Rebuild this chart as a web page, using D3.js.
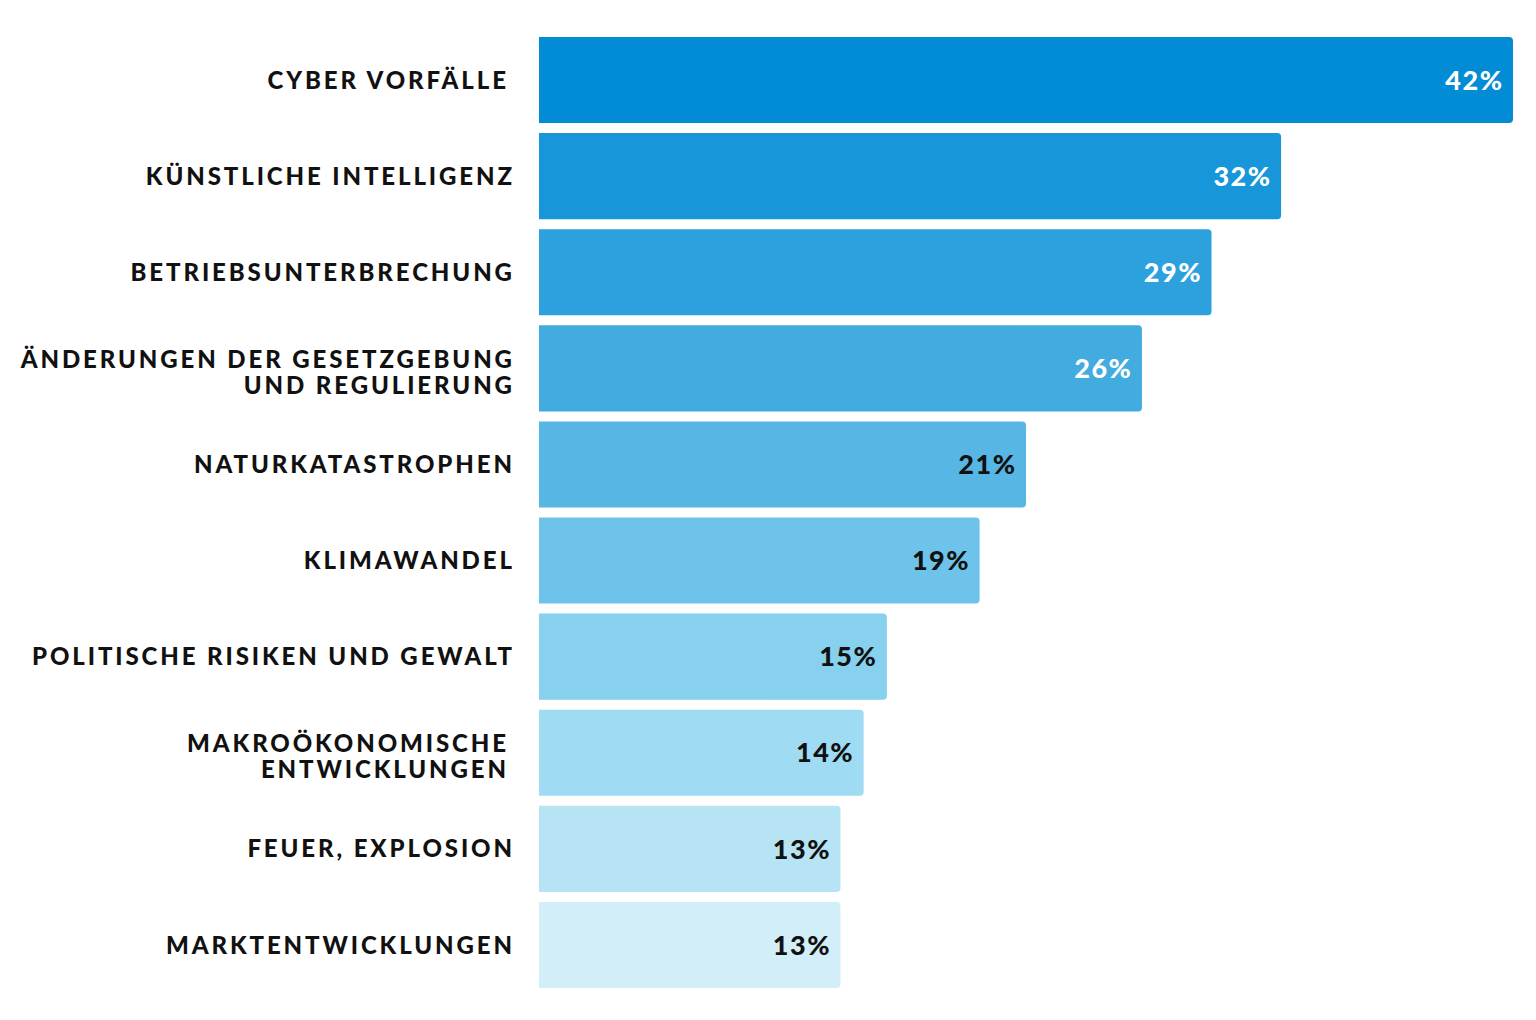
<!DOCTYPE html>
<html>
<head>
<meta charset="utf-8">
<script src="https://cdn.jsdelivr.net/npm/d3@7"></script>
<style>
  html, body { margin: 0; padding: 0; background: #fff; }
  text { font-family: "Lato", "Open Sans", sans-serif; font-weight: 900; }
</style>
</head>
<body>
<svg width="1536" height="1020"></svg>
<script>
// risk categories (label lines) and share of answers in %
const categories = [
    ["CYBER VORFÄLLE"],
    ["KÜNSTLICHE INTELLIGENZ"],
    ["BETRIEBSUNTERBRECHUNG"],
    ["ÄNDERUNGEN DER GESETZGEBUNG", "UND REGULIERUNG"],
    ["NATURKATASTROPHEN"],
    ["KLIMAWANDEL"],
    ["POLITISCHE RISIKEN UND GEWALT"],
    ["MAKROÖKONOMISCHE", "ENTWICKLUNGEN"],
    ["FEUER, EXPLOSION"],
    ["MARKTENTWICKLUNGEN"]
];
const values = [42, 32, 29, 26, 21, 19, 15, 14, 13, 13];
const colors = ["#028cd6", "#1796d9", "#2ca1dd", "#42ace0", "#57b6e4",
                "#6dc3e9", "#87d0ee", "#9fdbf2", "#b7e4f5", "#d1eef9"];

const svg = d3.select("svg");

const left = 539;
const x = d3.scaleLinear().domain([0, 42]).range([left, 1513]);
const y = d3.scaleBand()
            .domain(d3.range(values.length))
            .range([37, 988])
            .paddingInner(10 / 96)
            .paddingOuter(0);

// bar with square left edge and rounded right corners
function barPath(v, i) {
    const x0 = left, x1 = x(v), y0 = y(i), y1 = y(i) + y.bandwidth(), r = 4;
    return `M${x0},${y0}H${x1 - r}Q${x1},${y0} ${x1},${y0 + r}V${y1 - r}Q${x1},${y1} ${x1 - r},${y1}H${x0}Z`;
}

const rows = svg.selectAll("g.row")
    .data(values)
    .enter()
    .append("g")
    .attr("class", "row");

rows.append("path")
    .attr("d", (d, i) => barPath(d, i))
    .attr("fill", (d, i) => colors[i]);

const valSpacing = 1.5;
rows.append("text")
    .attr("x", d => x(d) - 11 + valSpacing)
    .attr("y", (d, i) => y(i) + y.bandwidth() / 2)
    .attr("dy", "0.36em")
    .attr("text-anchor", "end")
    .attr("font-size", 27)
    .attr("letter-spacing", valSpacing)
    .attr("fill", (d, i) => i < 4 ? "#fff" : "#111")
    .text(d => d + "%");

// category labels, right aligned against the bars
const labSpacing = 2.9;
const labels = svg.selectAll("text.label")
    .data(categories)
    .enter()
    .append("text")
    .attr("class", "label")
    .attr("text-anchor", "end")
    .attr("font-size", 24)
    .attr("letter-spacing", labSpacing)
    .attr("fill", "#111");

labels.each(function(lines, i) {
    const mid = y(i) + y.bandwidth() / 2;
    const lineH = 26;
    const start = mid - (lines.length - 1) * lineH / 2 + (lines.length > 1 ? 4 : 0);
    const rightX = ((i === 0 || i === 7) ? 506 : 512) + labSpacing;
    d3.select(this).selectAll("tspan")
        .data(lines)
        .enter()
        .append("tspan")
        .attr("x", rightX)
        .attr("y", (l, j) => start + j * lineH)
        .attr("dy", "0.36em")
        .text(l => l);
});
</script>
</body>
</html>
